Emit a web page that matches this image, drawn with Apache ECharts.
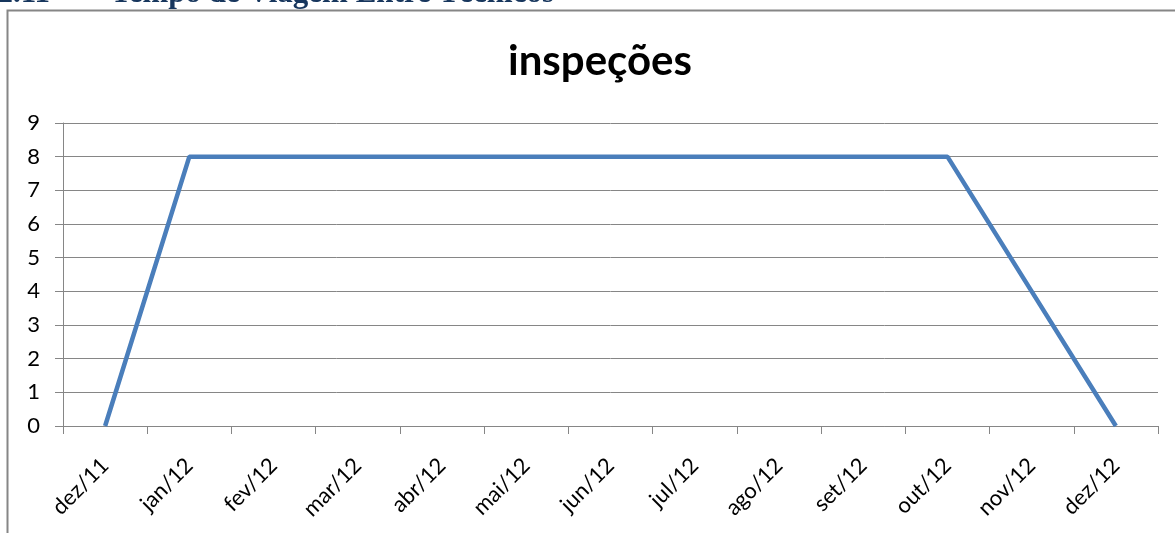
<!DOCTYPE html>
<html><head><meta charset="utf-8">
<script src="https://cdn.jsdelivr.net/npm/echarts@6/dist/echarts.min.js"></script>
<style>html,body{margin:0;padding:0;background:#fff;}#c{width:1175px;height:533px;}</style>
</head><body><div id="c"></div>
<script>
const categories = ['dez/11','jan/12','fev/12','mar/12','abr/12','mai/12','jun/12','jul/12','ago/12','set/12','out/12','nov/12','dez/12'];
const inspecoes = [0,8,8,8,8,8,8,8,8,8,8,4,0];
const yTicks = [0,1,2,3,4,5,6,7,8,9];

const chart = echarts.init(document.getElementById('c'), null, {renderer:'canvas'});
const fontFam = 'Lato, "Open Sans", sans-serif';
const headFont = 'bold 31px "Liberation Serif", serif';
chart.setOption({
  animation:false,
  graphic:[
    {type:'rect', shape:{x:7.5,y:10.5,width:1200,height:600}, style:{fill:'none',stroke:'#868686',lineWidth:2}, silent:true},
    {type:'text', x:50, y:-6.5, style:{text:'5.2.11', fill:'#17365D', align:'right', verticalAlign:'middle', font:headFont}},
    {type:'text', x:554, y:-6.5, style:{text:'Tempo de Viagem Entre Técnicos', fill:'#17365D', align:'right', verticalAlign:'middle', font:headFont}}
  ],
  title:{text:'inspeções', left:595, textAlign:'center', top:35, textStyle:{fontFamily:fontFam, fontWeight:'bold', fontSize:42, color:'#000'}},
  grid:{left:63, right:17, top:123, bottom:107},
  xAxis:{type:'category', data:categories, boundaryGap:true,
    axisLine:{lineStyle:{color:'#868686',width:1}},
    axisTick:{show:true, length:8, alignWithLabel:false, lineStyle:{color:'#868686'}},
    axisLabel:{rotate:45, fontSize:22, color:'#000', fontFamily:fontFam, margin:36, interval:0},
    splitLine:{show:false}},
  yAxis:{type:'value', min:0, max:9, interval:1,
    axisLine:{show:true, lineStyle:{color:'#868686',width:1}},
    axisTick:{show:true, length:8, lineStyle:{color:'#868686'}},
    axisLabel:{fontSize:22, color:'#000', fontFamily:fontFam, margin:23,
      formatter:v=>yTicks.includes(v)?String(v):''},
    splitLine:{show:true, lineStyle:{color:'#868686',width:1}}},
  series:[{type:'line', name:'inspeções', data:inspecoes, symbol:'none',
    lineStyle:{color:'#4A7EBB', width:4.5}, itemStyle:{color:'#4A7EBB'}}]
});
</script></body></html>
